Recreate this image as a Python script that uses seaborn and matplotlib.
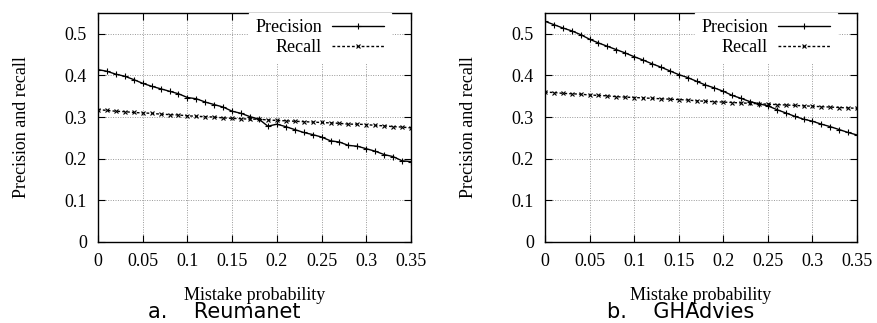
import matplotlib
matplotlib.use("Agg")
import matplotlib.pyplot as plt
import numpy as np
import pandas as pd
import seaborn as sns
from matplotlib.ticker import FuncFormatter

sns.set_theme(style="ticks")
plt.rcParams["font.family"] = ["Liberation Serif", "DejaVu Serif"]
plt.rcParams["text.color"] = "black"
plt.rcParams["axes.labelcolor"] = "black"

# ── data (step 0.01) ──
mistake = [round(0.01 * i, 2) for i in range(36)]

reu_precision = [0.414, 0.410, 0.403, 0.398, 0.390, 0.381, 0.374, 0.368, 0.362, 0.356,
                 0.347, 0.344, 0.336, 0.330, 0.324, 0.314, 0.309, 0.301, 0.295, 0.278,
                 0.283, 0.277, 0.270, 0.263, 0.258, 0.252, 0.243, 0.240, 0.232, 0.230,
                 0.224, 0.218, 0.210, 0.205, 0.195, 0.193]
reu_recall = [0.318, 0.316, 0.314, 0.313, 0.311, 0.310, 0.309, 0.307, 0.306, 0.305,
              0.303, 0.302, 0.301, 0.300, 0.298, 0.297, 0.296, 0.295, 0.295, 0.293,
              0.292, 0.291, 0.290, 0.289, 0.288, 0.287, 0.286, 0.285, 0.283, 0.283,
              0.282, 0.280, 0.279, 0.277, 0.276, 0.274]

gha_precision = [0.530, 0.522, 0.514, 0.507, 0.498, 0.487, 0.478, 0.470, 0.462, 0.454,
                 0.445, 0.437, 0.428, 0.420, 0.411, 0.402, 0.395, 0.386, 0.377, 0.370,
                 0.362, 0.352, 0.345, 0.337, 0.332, 0.327, 0.318, 0.310, 0.302, 0.295,
                 0.290, 0.283, 0.277, 0.270, 0.263, 0.257]
gha_recall = [0.360, 0.359, 0.357, 0.356, 0.355, 0.353, 0.352, 0.351, 0.349, 0.348,
              0.347, 0.346, 0.345, 0.344, 0.343, 0.342, 0.341, 0.339, 0.338, 0.337,
              0.336, 0.335, 0.334, 0.333, 0.332, 0.331, 0.330, 0.329, 0.328, 0.327,
              0.326, 0.325, 0.324, 0.323, 0.322, 0.321]

panels = [("a.    Reumanet", reu_precision, reu_recall),
          ("b.    GHAdvies", gha_precision, gha_recall)]

x_ticks = [0, 0.05, 0.1, 0.15, 0.2, 0.25, 0.3, 0.35]
y_ticks = [0, 0.1, 0.2, 0.3, 0.4, 0.5]

fig = plt.figure(figsize=(8.78, 3.23), dpi=100)
ax_pos = [[0.1116, 0.2508, 0.3565, 0.709], [0.6207, 0.2508, 0.3554, 0.709]]
caption_x = [148 / 878, 607 / 878]

for pos, cx, (caption, prec, rec) in zip(ax_pos, caption_x, panels):
    ax = fig.add_axes(pos)
    df = pd.DataFrame({"x": mistake, "Precision": prec, "Recall": rec})
    sns.lineplot(data=df, x="x", y="Precision", ax=ax, color="black", lw=1.0,
                 marker="+", markersize=4, markeredgewidth=0.8,
                 markeredgecolor="black", label="Precision")
    sns.lineplot(data=df, x="x", y="Recall", ax=ax, color="black", lw=1.0,
                 linestyle=(0, (2, 1.5)), marker="x", markersize=3,
                 markeredgewidth=0.8, markeredgecolor="black", label="Recall")

    ax.set_xlim(0, 0.35)
    ax.set_ylim(0, 0.55)
    ax.set_xticks(x_ticks)
    ax.set_yticks(y_ticks)
    ax.xaxis.set_major_formatter(FuncFormatter(lambda v, p: f"{v:g}"))
    ax.yaxis.set_major_formatter(FuncFormatter(lambda v, p: f"{v:g}"))
    ax.grid(True, color="#999999", linestyle=(0, (1, 1.5)), linewidth=0.7)
    ax.tick_params(direction="in", top=True, right=True, length=5, width=0.8,
                   labelsize=13, colors="black", pad=8)
    for s in ax.spines.values():
        s.set_color("black")
        s.set_linewidth(1.0)
        s.set_visible(True)

    ax.set_xlabel("Mistake probability", fontsize=13, labelpad=12)
    ax.set_ylabel("Precision and recall", fontsize=13, labelpad=25)

    leg = ax.legend(loc="upper right", bbox_to_anchor=(0.935, 1.0),
                    markerfirst=False, frameon=True, fontsize=13,
                    handlelength=2.9, handletextpad=0.55, borderaxespad=0.0,
                    labelspacing=0.15, fancybox=False, borderpad=0.35)
    leg.get_frame().set_facecolor("white")
    leg.get_frame().set_edgecolor("white")
    leg.get_frame().set_alpha(1.0)

    fig.text(cx, 0.014, caption, fontsize=15, family="DejaVu Sans",
             ha="left", va="baseline", color="black")

fig.savefig("out.png", dpi=100)
